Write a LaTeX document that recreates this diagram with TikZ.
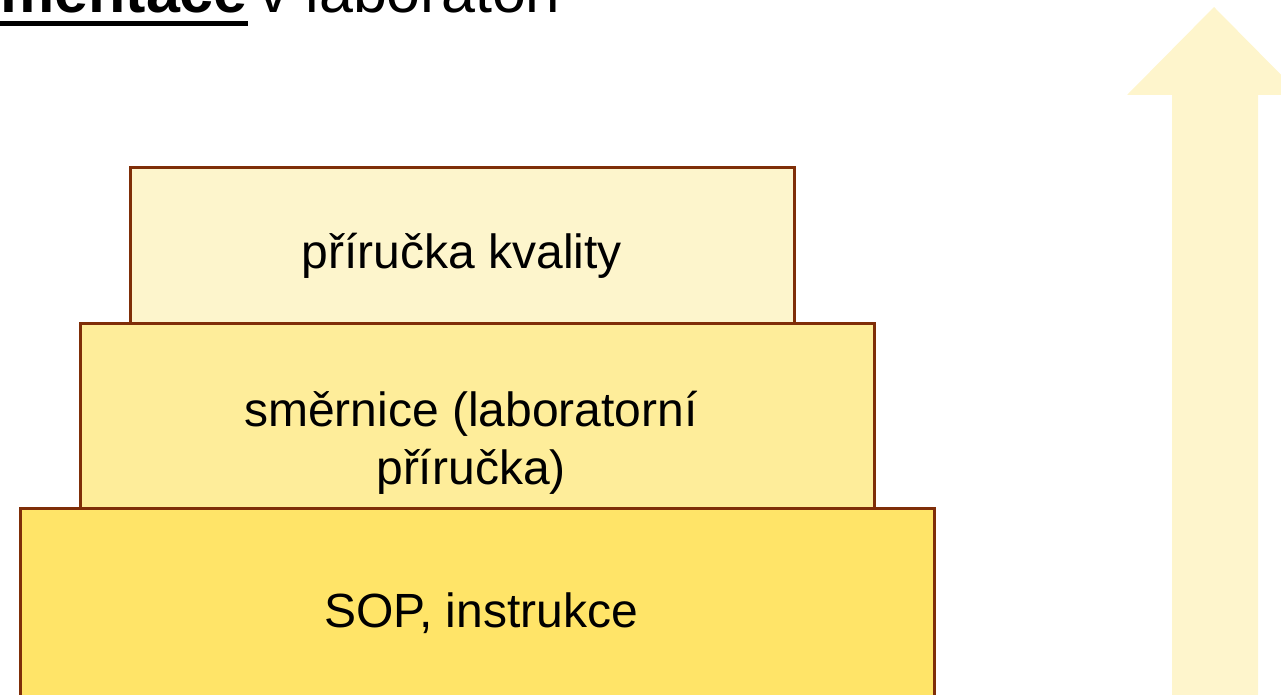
\documentclass[tikz,border=0pt]{standalone}
\usepackage{fontspec}
\setmainfont{Liberation Sans}
\definecolor{edgebrown}{HTML}{7F2E08}
\definecolor{fillA}{HTML}{FDF5CC}
\definecolor{fillB}{HTML}{FEED9A}
\definecolor{fillC}{HTML}{FFE468}
\definecolor{arrowfill}{HTML}{FEF5CC}
\begin{document}
\begin{tikzpicture}[x=1pt,y=-1pt,
  tier/.style={draw=edgebrown,line width=3pt,rectangle},
  tiertext/.style={font=\fontsize{48}{58}\selectfont,align=center,text=black,inner sep=0pt},
  titlefont/.style={font=\fontsize{61}{70}\selectfont,inner sep=0pt}]
\useasboundingbox (0,0) rectangle (1281,695);
\clip (0,0) rectangle (1281,695);
% upward arrow
\fill[arrowfill] (1172,720) -- (1172,95) -- (1127,95) -- (1214,7) -- (1301,95) -- (1258,95) -- (1258,720) -- cycle;
% tiers
\draw[tier,fill=fillC] (20,720) rectangle (934,508);
\draw[tier,fill=fillB] (80,508) rectangle (874,323);
\draw[tier,fill=fillA] (130,323) rectangle (794,168);
\node[tiertext] (top) at (462,256) {příručka kvality};
\node[tiertext] (mid) at (471,443) {směrnice (laboratorní\\příručka)};
\node[tiertext] (bot) at (481,613) {SOP, instrukce};
% title (cut off at top)
\node[titlefont,anchor=base east] (t1) at (248,13) {\textbf{Dokumentace}};
\node[titlefont,anchor=base west] (t2) at (258,13) {v laboratoři};
\fill (t1.base west |- 0,21) rectangle (248,26);
\end{tikzpicture}
\end{document}
